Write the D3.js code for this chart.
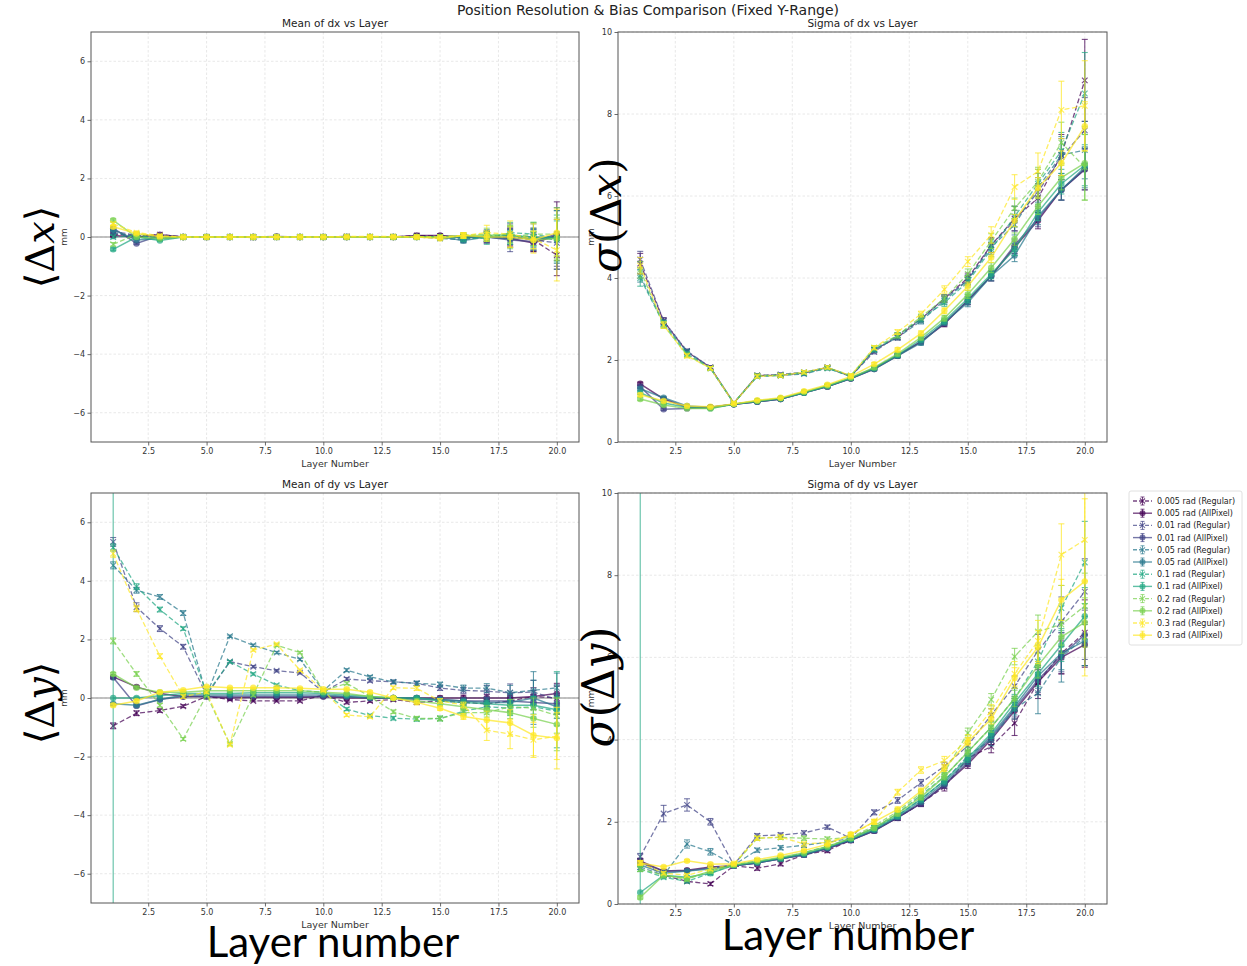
<!DOCTYPE html>
<html><head><meta charset="utf-8">
<script src="https://cdn.jsdelivr.net/npm/d3@7"></script>
<style>body{margin:0;background:#fff}svg{display:block}</style>
</head><body>
<svg id="c" width="1247" height="966"></svg>
<script>
// ---------------- DATA ----------------
const layers = [1,2,3,4,5,6,7,8,9,10,11,12,13,14,15,16,17,18,19,20];
const seriesLabels = [
  "0.005 rad (Regular)","0.005 rad (AllPixel)",
  "0.01 rad (Regular)","0.01 rad (AllPixel)",
  "0.05 rad (Regular)","0.05 rad (AllPixel)",
  "0.1 rad (Regular)","0.1 rad (AllPixel)",
  "0.2 rad (Regular)","0.2 rad (AllPixel)",
  "0.3 rad (Regular)","0.3 rad (AllPixel)"];
const seriesColors = ["#440154","#440154","#414487","#414487","#2a788e","#2a788e",
                      "#22a884","#22a884","#7ad151","#7ad151","#fde725","#fde725"];
const xTickValues = [2.5,5,7.5,10,12.5,15,17.5,20];
const meanTickValues = [-6,-4,-2,0,2,4,6];
const sigmaTickValues = [0,2,4,6,8,10];
const panelTitles = ["Mean of dx vs Layer","Sigma of dx vs Layer","Mean of dy vs Layer","Sigma of dy vs Layer"];

const meanDx = [
  [0.1,0.05,0.08,0,0,0,0,0,0,0,0.02,0,0,0.05,0.03,0,0,0,-0.1,-0.62],
  [0.05,0,0.08,0,0,0,0,0.02,0,0,0,0,0,0.05,0.05,0,0,-0.05,-0.2,0.05],
  [0.2,0.05,0,0,0,0,-0.02,0,0,0,0,0,0,0.02,0,-0.05,0,0.1,-0.1,-0.2],
  [0.3,-0.22,0.05,0,0,0,0,0,0,0,0,0,0,0,0,0,0,-0.1,-0.15,0.1],
  [0.15,0,0,0,0,0,0,0,0,0,0,0,0,0,-0.05,-0.1,0.05,0.05,0,-0.1],
  [0.25,-0.1,-0.05,0,0,0,0,0,0,0,0,0,0,0,0,-0.12,0,-0.05,-0.05,0],
  [0,0.05,-0.05,0,0,0,0,0,0,0,0,0,0,0,0,-0.05,-0.05,0.15,0.1,-0.05],
  [-0.42,0,-0.12,0,0,0,0,0,0,0,0,0,0,0,0,0,0,0.05,0,-0.05],
  [-0.25,0.1,0,0,0,0,0,0,0,0,0,0,0,0,0,0.05,0.1,0,0.1,0.1],
  [0.57,0,-0.05,0,0,0,0,0,0,0,0,0,0,0,0,0.05,0.05,0.1,-0.1,-0.05],
  [0.45,0.15,0.05,0,0,0,0,0,0,0,0.02,0.02,0.02,0,0,0.05,0.15,0.1,-0.05,-0.45],
  [0.35,0.12,0.02,0,0,0,0,0,0,0,0,0,0,0,-0.05,0.05,0,0,-0.1,0.15]];
const meanDxErr = [
  [0.06,0.04,0.03,0.02,0.01,0.01,0.01,0.01,0.02,0.02,0.02,0.03,0.03,0.04,0.06,0.1,0.15,0.3,0.4,0.7],
  [0.05,0.03,0.02,0.02,0.01,0.01,0.01,0.01,0.01,0.02,0.02,0.02,0.03,0.04,0.05,0.08,0.2,0.3,0.3,1.15],
  [0.06,0.04,0.03,0.02,0.01,0.01,0.01,0.01,0.02,0.02,0.02,0.03,0.03,0.04,0.06,0.1,0.2,0.35,0.35,0.8],
  [0.05,0.03,0.02,0.02,0.01,0.01,0.01,0.01,0.01,0.02,0.02,0.02,0.03,0.04,0.05,0.08,0.2,0.4,0.3,0.9],
  [0.06,0.04,0.03,0.02,0.01,0.01,0.01,0.01,0.02,0.02,0.02,0.03,0.03,0.04,0.06,0.1,0.2,0.3,0.45,1.0],
  [0.05,0.03,0.02,0.02,0.01,0.01,0.01,0.01,0.01,0.02,0.02,0.02,0.03,0.04,0.05,0.08,0.15,0.3,0.3,0.9],
  [0.06,0.04,0.03,0.02,0.01,0.01,0.01,0.01,0.02,0.02,0.02,0.03,0.03,0.04,0.06,0.1,0.2,0.35,0.4,0.8],
  [0.05,0.03,0.02,0.02,0.01,0.01,0.01,0.01,0.01,0.02,0.02,0.02,0.03,0.04,0.05,0.08,0.15,0.3,0.3,0.6],
  [0.06,0.04,0.03,0.02,0.01,0.01,0.01,0.01,0.02,0.02,0.02,0.03,0.03,0.04,0.06,0.1,0.2,0.4,0.4,0.9],
  [0.05,0.03,0.02,0.02,0.01,0.01,0.01,0.01,0.01,0.02,0.02,0.02,0.03,0.04,0.05,0.08,0.15,0.3,0.3,0.7],
  [0.06,0.04,0.03,0.02,0.01,0.01,0.01,0.01,0.02,0.02,0.02,0.03,0.03,0.04,0.06,0.1,0.25,0.45,0.5,1.05],
  [0.05,0.03,0.02,0.02,0.01,0.01,0.01,0.01,0.01,0.02,0.02,0.02,0.03,0.04,0.05,0.08,0.15,0.35,0.3,0.8]];

const sigmaDx = [
  [4.35,2.95,2.2,1.82,0.95,1.62,1.63,1.68,1.82,1.6,2.25,2.55,3.0,3.5,4.0,4.8,5.45,5.95,7.0,8.82],
  [1.42,1.05,0.85,0.85,0.92,0.98,1.05,1.2,1.35,1.55,1.78,2.1,2.45,2.88,3.45,4.05,4.75,5.4,6.15,6.65],
  [4.45,2.95,2.22,1.82,0.95,1.62,1.65,1.7,1.82,1.6,2.2,2.6,3.0,3.5,3.95,4.8,5.4,6.1,6.95,7.6],
  [1.35,0.8,0.82,0.84,0.92,0.98,1.05,1.2,1.35,1.55,1.8,2.12,2.45,2.9,3.45,4.05,4.8,5.45,6.15,6.65],
  [4.05,2.9,2.2,1.8,0.95,1.6,1.62,1.66,1.8,1.6,2.25,2.55,2.95,3.45,3.95,4.75,5.3,6.2,7.0,7.12],
  [1.3,1.08,0.88,0.85,0.92,0.98,1.05,1.2,1.36,1.55,1.78,2.1,2.42,2.92,3.4,4.05,4.55,5.5,6.15,6.7],
  [4.0,2.88,2.15,1.8,0.95,1.6,1.63,1.68,1.8,1.6,2.25,2.6,3.0,3.4,3.9,4.7,5.5,6.3,7.1,8.5],
  [1.2,0.95,0.85,0.82,0.92,1.0,1.06,1.2,1.36,1.56,1.8,2.12,2.5,2.95,3.5,4.1,4.7,5.6,6.3,6.75],
  [4.2,2.85,2.12,1.8,0.95,1.62,1.63,1.7,1.82,1.62,2.3,2.6,3.05,3.5,4.1,4.9,5.7,6.35,7.3,6.7],
  [1.05,0.9,0.82,0.82,0.93,1.0,1.07,1.22,1.38,1.57,1.82,2.15,2.55,3.02,3.6,4.25,4.95,5.75,6.45,6.8],
  [4.3,2.85,2.1,1.8,0.95,1.6,1.62,1.7,1.82,1.62,2.3,2.68,3.12,3.72,4.4,5.05,6.22,6.6,8.1,8.2],
  [1.15,1.0,0.88,0.86,0.93,1.02,1.08,1.24,1.4,1.6,1.9,2.25,2.65,3.2,3.8,4.5,5.4,6.2,6.8,7.7]];
const sigmaDxErr = [
  [0.25,0.08,0.05,0.04,0.03,0.04,0.04,0.04,0.04,0.04,0.05,0.06,0.07,0.09,0.12,0.18,0.3,0.35,0.5,1.0],
  [0.04,0.03,0.02,0.02,0.02,0.02,0.02,0.03,0.03,0.03,0.04,0.05,0.06,0.07,0.1,0.12,0.15,0.2,0.25,0.5],
  [0.2,0.08,0.05,0.04,0.03,0.04,0.04,0.04,0.04,0.04,0.05,0.06,0.07,0.09,0.12,0.18,0.25,0.35,0.45,0.8],
  [0.04,0.03,0.02,0.02,0.02,0.02,0.02,0.03,0.03,0.03,0.04,0.05,0.06,0.07,0.1,0.12,0.15,0.2,0.25,0.5],
  [0.15,0.08,0.05,0.04,0.03,0.04,0.04,0.04,0.04,0.04,0.05,0.06,0.07,0.09,0.12,0.18,0.25,0.35,0.45,0.7],
  [0.04,0.03,0.02,0.02,0.02,0.02,0.02,0.03,0.03,0.03,0.04,0.05,0.06,0.07,0.1,0.12,0.15,0.2,0.25,0.5],
  [0.2,0.08,0.05,0.04,0.03,0.04,0.04,0.04,0.04,0.04,0.05,0.06,0.07,0.09,0.12,0.18,0.25,0.35,0.45,1.0],
  [0.04,0.03,0.02,0.02,0.02,0.02,0.02,0.03,0.03,0.03,0.04,0.05,0.06,0.07,0.1,0.12,0.15,0.2,0.25,0.5],
  [0.2,0.08,0.05,0.04,0.03,0.04,0.04,0.04,0.04,0.04,0.05,0.06,0.07,0.09,0.12,0.18,0.25,0.35,0.5,0.8],
  [0.04,0.03,0.02,0.02,0.02,0.02,0.02,0.03,0.03,0.03,0.04,0.05,0.06,0.07,0.1,0.12,0.15,0.2,0.3,0.9],
  [0.2,0.08,0.05,0.04,0.03,0.04,0.04,0.04,0.04,0.04,0.05,0.06,0.07,0.09,0.12,0.2,0.3,0.45,0.7,1.1],
  [0.04,0.03,0.02,0.02,0.02,0.02,0.02,0.03,0.03,0.03,0.04,0.05,0.06,0.07,0.1,0.12,0.15,0.25,0.3,0.6]];

const meanDy = [
  [-0.95,-0.52,-0.43,-0.28,0.05,-0.05,-0.1,-0.1,-0.1,0.1,-0.15,-0.1,-0.05,-0.15,-0.1,-0.15,-0.2,-0.1,0.05,0.0],
  [0.72,0.38,0.15,0.05,0.05,0,0.02,0.02,0.02,0.05,0,0,0,0,0,0,0,0,0.05,0.15],
  [5.33,3.1,2.37,1.75,0.1,1.24,1.07,0.93,0.86,0.2,0.65,0.59,0.55,0.5,0.34,0.26,0.23,0.18,0.2,-0.05],
  [0.7,-0.27,-0.05,0.05,0.05,0.05,0.05,0.05,0.05,0.05,0.05,0,0,-0.05,-0.05,-0.1,-0.1,-0.1,-0.15,-0.2],
  [4.53,3.68,3.45,2.9,0.1,2.11,1.8,1.55,1.32,0.25,0.95,0.72,0.55,0.5,0.46,0.34,0.34,0.18,0.26,0.35],
  [-0.2,-0.25,-0.05,0.1,0.1,0.1,0.1,0.1,0.1,0.1,0.05,0,0,0,-0.05,-0.1,-0.15,-0.15,0,-0.3],
  [5.14,3.8,3.02,2.37,0.15,1.24,0.82,0.44,0.25,0.2,-0.38,-0.6,-0.69,-0.72,-0.7,-0.45,-0.3,-0.35,-0.3,-0.45],
  [0,0,0.08,0.15,0.15,0.15,0.18,0.18,0.18,0.15,0.1,0.05,0,0,-0.1,-0.15,-0.2,-0.25,-0.25,-0.4],
  [1.95,0.82,-0.25,-1.4,0.1,-1.57,0.1,1.8,1.55,0.25,0.5,0.05,-0.47,-0.7,-0.7,-0.5,-0.5,-0.3,-0.35,-0.6],
  [0.82,0.35,0.2,0.2,0.25,0.25,0.25,0.25,0.25,0.2,0.15,0.05,0,-0.1,-0.2,-0.3,-0.4,-0.5,-0.7,-0.9],
  [4.93,3.05,1.43,0.05,0.2,-1.6,1.64,1.84,0.95,0.27,-0.58,-0.64,0.35,0.33,-0.1,-0.24,-1.1,-1.23,-1.43,-1.3],
  [-0.25,-0.1,0.2,0.27,0.39,0.35,0.35,0.35,0.33,0.3,0.3,0.2,0,-0.15,-0.35,-0.63,-0.75,-0.85,-1.27,-1.37]];
const meanDyErr = [
  [0.1,0.08,0.06,0.05,0.03,0.03,0.03,0.03,0.04,0.04,0.05,0.05,0.06,0.07,0.08,0.1,0.15,0.2,0.3,0.4],
  [0.05,0.04,0.03,0.03,0.02,0.02,0.02,0.02,0.03,0.03,0.04,0.04,0.05,0.06,0.07,0.1,0.12,0.15,0.2,0.35],
  [0.15,0.15,0.1,0.08,0.04,0.04,0.04,0.04,0.04,0.04,0.05,0.05,0.06,0.07,0.08,0.1,0.2,0.3,0.4,0.5],
  [0.05,0.04,0.03,0.03,0.02,0.02,0.02,0.02,0.03,0.03,0.04,0.04,0.05,0.06,0.07,0.1,0.12,0.15,0.25,0.35],
  [0.12,0.1,0.08,0.08,0.04,0.04,0.04,0.04,0.04,0.04,0.05,0.05,0.06,0.07,0.08,0.1,0.15,0.25,0.35,0.5],
  [0.05,0.04,0.03,0.03,0.02,0.02,0.02,0.02,0.03,0.03,0.04,0.04,0.05,0.06,0.07,0.1,0.15,0.3,0.9,0.4],
  [0.12,0.1,0.08,0.06,0.04,0.04,0.04,0.04,0.04,0.04,0.05,0.05,0.06,0.07,0.08,0.1,0.15,0.25,0.35,0.5],
  [30,0.04,0.03,0.03,0.02,0.02,0.02,0.02,0.03,0.03,0.04,0.04,0.05,0.06,0.07,0.1,0.12,0.2,0.3,1.3],
  [0.1,0.08,0.06,0.05,0.04,0.04,0.04,0.04,0.04,0.04,0.05,0.05,0.06,0.07,0.08,0.1,0.15,0.25,0.35,0.6],
  [0.05,0.04,0.03,0.03,0.02,0.02,0.02,0.02,0.03,0.03,0.04,0.04,0.05,0.06,0.07,0.1,0.15,0.2,0.3,0.9],
  [0.12,0.1,0.08,0.06,0.04,0.04,0.04,0.04,0.04,0.04,0.05,0.05,0.06,0.07,0.08,0.1,0.35,0.5,0.6,0.8],
  [0.05,0.04,0.03,0.03,0.02,0.02,0.02,0.02,0.03,0.03,0.04,0.04,0.05,0.06,0.07,0.1,0.3,0.45,0.7,1.05]];

const sigmaDy = [
  [1.05,0.7,0.55,0.49,0.93,0.87,0.98,1.2,1.3,1.55,1.8,2.1,2.45,2.85,3.55,3.83,4.4,5.4,6.1,6.6],
  [1.05,0.8,0.82,0.9,0.93,1.0,1.1,1.2,1.35,1.55,1.78,2.1,2.45,2.9,3.4,4.0,4.7,5.4,6.0,6.31],
  [1.15,2.2,2.41,2.0,0.95,1.66,1.68,1.73,1.87,1.6,2.23,2.52,2.95,3.35,3.85,4.6,5.3,6.16,6.87,7.6],
  [1.0,0.8,0.8,0.88,0.93,1.0,1.1,1.2,1.35,1.55,1.78,2.1,2.45,2.9,3.45,4.05,4.75,5.45,6.05,6.55],
  [0.9,0.7,1.46,1.27,0.95,1.31,1.37,1.43,1.5,1.6,1.85,2.15,2.55,3.0,3.6,4.0,4.75,5.13,6.0,6.5],
  [0.95,0.75,0.8,0.85,0.93,1.0,1.1,1.2,1.36,1.56,1.8,2.12,2.5,2.95,3.5,4.1,4.8,5.55,6.1,6.4],
  [0.85,0.65,0.55,0.75,0.95,1.05,1.1,1.25,1.4,1.6,1.85,2.2,2.65,3.1,3.7,4.3,5.0,5.9,7.2,8.31],
  [0.28,0.7,0.65,0.75,0.94,1.02,1.12,1.22,1.38,1.58,1.82,2.15,2.55,3.0,3.55,4.15,4.9,5.6,6.3,7.0],
  [0.85,0.7,0.6,0.8,0.95,1.6,1.62,1.6,1.58,1.62,1.9,2.25,2.7,3.2,4.16,4.97,6.02,6.63,6.8,7.25],
  [0.16,0.7,0.62,0.8,0.95,1.04,1.14,1.25,1.4,1.6,1.85,2.2,2.6,3.1,3.7,4.3,5.0,5.8,6.5,6.85],
  [1.0,0.75,0.7,0.85,0.98,1.6,1.63,1.46,1.5,1.68,2.0,2.72,3.26,3.49,4.0,4.7,5.6,6.4,8.5,8.86],
  [1.0,0.9,1.05,0.97,0.98,1.08,1.18,1.3,1.45,1.7,2.0,2.3,2.75,3.3,3.95,4.5,5.5,6.25,7.4,7.85]];
const sigmaDyErr = [
  [0.06,0.04,0.04,0.04,0.03,0.05,0.05,0.05,0.05,0.05,0.06,0.07,0.08,0.1,0.12,0.15,0.3,0.4,0.5,0.8],
  [0.04,0.03,0.03,0.03,0.02,0.03,0.03,0.03,0.03,0.04,0.05,0.06,0.07,0.08,0.1,0.12,0.2,0.3,0.4,0.55],
  [0.08,0.2,0.15,0.08,0.04,0.05,0.05,0.05,0.05,0.05,0.06,0.07,0.08,0.1,0.12,0.15,0.25,0.4,0.6,0.8],
  [0.04,0.03,0.03,0.03,0.02,0.03,0.03,0.03,0.03,0.04,0.05,0.06,0.07,0.08,0.1,0.12,0.2,0.3,0.4,0.6],
  [0.06,0.04,0.1,0.08,0.03,0.05,0.05,0.05,0.05,0.05,0.06,0.07,0.08,0.1,0.12,0.15,0.25,0.5,0.6,0.7],
  [0.04,0.03,0.03,0.03,0.02,0.03,0.03,0.03,0.03,0.04,0.05,0.06,0.07,0.08,0.1,0.12,0.2,0.3,0.4,0.6],
  [0.06,0.04,0.04,0.04,0.03,0.05,0.05,0.05,0.05,0.05,0.06,0.07,0.08,0.1,0.12,0.15,0.25,0.4,0.55,1.0],
  [30,0.03,0.03,0.03,0.02,0.03,0.03,0.03,0.03,0.04,0.05,0.06,0.07,0.08,0.1,0.12,0.2,0.3,0.4,0.7],
  [0.06,0.04,0.04,0.04,0.03,0.05,0.05,0.05,0.05,0.05,0.06,0.07,0.08,0.1,0.12,0.15,0.2,0.4,0.5,0.8],
  [0.04,0.03,0.03,0.03,0.02,0.03,0.03,0.03,0.03,0.04,0.05,0.06,0.07,0.08,0.1,0.12,0.2,0.3,0.4,0.6],
  [0.06,0.04,0.04,0.04,0.03,0.05,0.05,0.05,0.05,0.05,0.06,0.07,0.08,0.1,0.12,0.15,0.3,0.5,0.75,1.0],
  [0.04,0.03,0.03,0.03,0.02,0.03,0.03,0.03,0.03,0.04,0.05,0.06,0.07,0.08,0.1,0.12,0.25,0.4,0.5,2.3]];

// ---------------- DRAW ----------------
const svg = d3.select("#c");
const FONT = "'DejaVu Sans', sans-serif";

const panels = [
  {title: panelTitles[0], vals: meanDx, errs: meanDxErr, dom: [-7,7], ticks: meanTickValues, zero: true, x0: 91, x1: 579, y0: 32, y1: 442},
  {title: panelTitles[1], vals: sigmaDx, errs: sigmaDxErr, dom: [0,10], ticks: sigmaTickValues, zero: false, x0: 618, x1: 1107, y0: 32, y1: 442},
  {title: panelTitles[2], vals: meanDy, errs: meanDyErr, dom: [-7,7], ticks: meanTickValues, zero: true, x0: 91, x1: 579, y0: 493, y1: 903},
  {title: panelTitles[3], vals: sigmaDy, errs: sigmaDyErr, dom: [0,10], ticks: sigmaTickValues, zero: false, x0: 618, x1: 1107, y0: 493, y1: 904}
];

svg.append("text").attr("x", 648).attr("y", 15).attr("text-anchor","middle")
  .attr("font-family", FONT).attr("font-size", 14).attr("fill","#222")
  .text("Position Resolution & Bias Comparison (Fixed Y-Range)");

const minus = s => String(s).replace("-", "\u2212");

panels.forEach((p, pi) => {
  const x = d3.scaleLinear().domain([0.05, 20.95]).range([p.x0, p.x1]);
  const y = d3.scaleLinear().domain(p.dom).range([p.y1, p.y0]);
  const g = svg.append("g");

  // grid
  g.append("g").selectAll("line").data(xTickValues).join("line")
    .attr("x1", d => x(d)).attr("x2", d => x(d)).attr("y1", p.y0).attr("y2", p.y1)
    .attr("stroke", "#e2e2e2").attr("stroke-width", 0.8).attr("stroke-dasharray", "2.5,2");
  g.append("g").selectAll("line").data(p.ticks).join("line")
    .attr("x1", p.x0).attr("x2", p.x1).attr("y1", d => y(d)).attr("y2", d => y(d))
    .attr("stroke", "#e2e2e2").attr("stroke-width", 0.8).attr("stroke-dasharray", "2.5,2");

  // axes
  const xa = g.append("g").attr("transform", `translate(0,${p.y1})`)
    .call(d3.axisBottom(x).tickValues(xTickValues).tickFormat(d3.format(".1f")).tickSize(3.5).tickPadding(2.5));
  const ya = g.append("g").attr("transform", `translate(${p.x0},0)`)
    .call(d3.axisLeft(y).tickValues(p.ticks).tickFormat(d => minus(d)).tickSize(3.5).tickPadding(2.5));
  [xa, ya].forEach(a => {
    a.select(".domain").remove();
    a.selectAll(".tick line").attr("stroke", "#444").attr("stroke-width", 0.8);
    a.selectAll(".tick text").attr("font-family", FONT).attr("font-size", 8).attr("fill", "#333");
  });

  // axis labels
  g.append("text").attr("x", (p.x0 + p.x1) / 2).attr("y", p.y1 + 25).attr("text-anchor", "middle")
    .attr("font-family", FONT).attr("font-size", 9.5).attr("fill", "#333").text("Layer Number");
  g.append("text").attr("transform", `translate(${p.x0 - 24},${(p.y0 + p.y1) / 2}) rotate(-90)`)
    .attr("text-anchor", "middle").attr("font-family", FONT).attr("font-size", 9)
    .attr("fill", "#333").text("mm");
  g.append("text").attr("x", (p.x0 + p.x1) / 2).attr("y", p.y0 - 5).attr("text-anchor", "middle")
    .attr("font-family", FONT).attr("font-size", 10.5).attr("fill", "#222").text(p.title);

  // clip
  const cid = "clip" + pi;
  svg.append("clipPath").attr("id", cid).append("rect")
    .attr("x", p.x0).attr("y", p.y0).attr("width", p.x1 - p.x0).attr("height", p.y1 - p.y0);
  const plot = g.append("g").attr("clip-path", `url(#${cid})`);

  if (p.zero) {
    plot.append("line").attr("x1", p.x0).attr("x2", p.x1).attr("y1", y(0)).attr("y2", y(0))
      .attr("stroke", "#888").attr("stroke-width", 1.2);
  }

  const line = d3.line().x((d, i) => x(layers[i])).y(d => y(d));
  p.vals.forEach((vals, si) => {
    const regular = seriesLabels[si].includes("Regular");
    const col = seriesColors[si];
    const op = 0.72;
    const sg = plot.append("g").attr("stroke-opacity", op).attr("fill-opacity", op);
    // error bars
    const errs = p.errs[si];
    const eb = sg.append("g").attr("stroke", col).attr("stroke-width", 1.1);
    vals.forEach((v, i) => {
      const cx = x(layers[i]), lo = y(v - errs[i]), hi = y(v + errs[i]);
      eb.append("line").attr("x1", cx).attr("x2", cx).attr("y1", lo).attr("y2", hi);
      eb.append("line").attr("x1", cx - 3).attr("x2", cx + 3).attr("y1", lo).attr("y2", lo);
      eb.append("line").attr("x1", cx - 3).attr("x2", cx + 3).attr("y1", hi).attr("y2", hi);
    });
    sg.append("path").attr("d", line(vals)).attr("fill", "none").attr("stroke", col)
      .attr("stroke-width", regular ? 1.3 : 1.5)
      .attr("stroke-dasharray", regular ? "5,2.5" : null);
    if (regular) {
      sg.append("g").selectAll("path").data(vals).join("path")
        .attr("transform", (d, i) => `translate(${x(layers[i])},${y(d)})`)
        .attr("d", "M-2.8,-2.8L2.8,2.8M-2.8,2.8L2.8,-2.8")
        .attr("stroke", col).attr("stroke-width", 1.2).attr("fill", "none");
    } else {
      sg.append("g").selectAll("circle").data(vals).join("circle")
        .attr("cx", (d, i) => x(layers[i])).attr("cy", d => y(d)).attr("r", 3.2)
        .attr("fill", col).attr("stroke", "none");
    }
  });

  // frame
  g.append("rect").attr("x", p.x0).attr("y", p.y0).attr("width", p.x1 - p.x0).attr("height", p.y1 - p.y0)
    .attr("fill", "none").attr("stroke", "#555").attr("stroke-width", 1);
});

// legend
const lg = svg.append("g").attr("transform", "translate(1129,491)");
lg.append("rect").attr("x", 0).attr("y", 0).attr("width", 113).attr("height", 154).attr("rx", 2)
  .attr("fill", "#fff").attr("stroke", "#d8d8d8").attr("stroke-width", 0.8);
seriesLabels.forEach((lab, i) => {
  const regular = lab.includes("Regular");
  const col = seriesColors[i];
  const yy = 10 + i * 12.2;
  const e = lg.append("g").attr("stroke-opacity", 0.72).attr("fill-opacity", 0.72);
  e.append("line").attr("x1", 4).attr("x2", 23).attr("y1", yy).attr("y2", yy)
    .attr("stroke", col).attr("stroke-width", 1.4).attr("stroke-dasharray", regular ? "4,2" : null);
  e.append("line").attr("x1", 13.5).attr("x2", 13.5).attr("y1", yy - 4).attr("y2", yy + 4).attr("stroke", col).attr("stroke-width", 1);
  e.append("line").attr("x1", 11.5).attr("x2", 15.5).attr("y1", yy - 4).attr("y2", yy - 4).attr("stroke", col).attr("stroke-width", 1);
  e.append("line").attr("x1", 11.5).attr("x2", 15.5).attr("y1", yy + 4).attr("y2", yy + 4).attr("stroke", col).attr("stroke-width", 1);
  if (regular) {
    e.append("path").attr("transform", `translate(13.5,${yy})`).attr("d", "M-2.5,-2.5L2.5,2.5M-2.5,2.5L2.5,-2.5")
      .attr("stroke", col).attr("stroke-width", 1.2);
  } else {
    e.append("circle").attr("cx", 13.5).attr("cy", yy).attr("r", 3).attr("fill", col);
  }
  lg.append("text").attr("x", 28).attr("y", yy + 3).attr("font-family", FONT).attr("font-size", 8)
    .attr("fill", "#222").text(lab);
});

// big overlay annotations
const SERIF = "'DejaVu Serif', 'Liberation Serif', serif";
function vlabel(cx, cy, size, parts) {
  const t = svg.append("text").attr("transform", `translate(${cx},${cy}) rotate(-90)`)
    .attr("text-anchor", "middle").attr("dominant-baseline", "central")
    .attr("font-family", SERIF).attr("font-size", size).attr("fill", "#000");
  parts.forEach(([s, it]) => t.append("tspan").attr("font-style", it ? "italic" : "normal").text(s));
}
vlabel(40, 247, 40, [["\u27E8\u0394", false], ["x", true], ["\u27E9", false]]);
vlabel(606, 215, 42, [["\u03C3", true], ["(\u0394", false], ["x", true], [")", false]]);
vlabel(40, 703, 40, [["\u27E8\u0394", false], ["y", true], ["\u27E9", false]]);
vlabel(598, 687, 44, [["\u03C3", true], ["(\u0394", false], ["y", true], [")", false]]);

svg.append("text").attr("x", 333).attr("y", 957).attr("text-anchor", "middle")
  .attr("font-family", "Lato, 'Open Sans', sans-serif").attr("font-size", 42).attr("fill", "#000").text("Layer number");
svg.append("text").attr("x", 848).attr("y", 950).attr("text-anchor", "middle")
  .attr("font-family", "Lato, 'Open Sans', sans-serif").attr("font-size", 42).attr("fill", "#000").text("Layer number");
</script>
</body></html>
